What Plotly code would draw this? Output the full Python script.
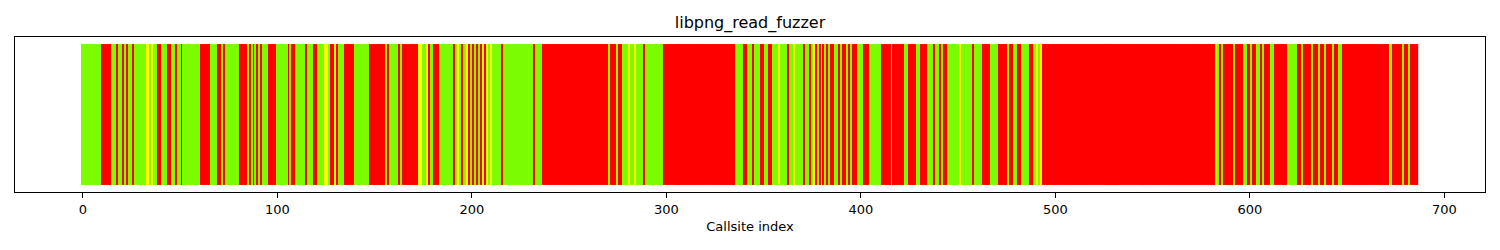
import plotly.graph_objects as go

# Callsite status as run-length tokens (G = green / hit, R = red / not hit, Y = yellow)
runs_0_114 = ("G10 R5 G3 R1 G2 R1 G1 R1 G2 R1 G6 Y2 G1 Y1 G2 R2 G3 R2 G2 R1 G2 R1 G9 R5 G4 R2 G1 R1 "
              "G7 R4 G1 R1 G1 R1 G1 R1 G1 R1 G3 R4 G6 R1 G1 R2 G5").split()
runs_115_236 = ("R1 G3 R2 G4 Y2 G1 R2 Y1 R1 G3 R5 G8 R8 G1 R1 G5 R1 G1 R8 Y2 G2 Y1 R1 G2 R3 G7 R1 G1 "
                "Y1 G1 R1 G2 Y1 R1 G1 R1 G1 R1 G1 R1 Y1 R1 Y1 G1 Y1 G5 R1 G15 R1 G4").split()
runs_237_335 = "R34 G1 R3 G1 R2 G3 Y1 G2 Y1 G4 R1 G9 R37".split()
runs_336_492 = ("G4 R2 G3 R1 G3 R2 G2 R2 G3 Y1 G4 R1 G2 Y1 G4 R1 G2 R1 G1 Y1 R1 G1 R1 Y1 R1 G1 R1 G1 "
                "R2 G2 R1 G1 R2 G1 R1 G1 R3 G3 R3 G6 R5 G1 R6 G2 R4 G2 R4 G3 R1 G2 R1 G1 R2 G6 Y1 G6 "
                "R1 G4 R4 G4 R5 G1 R2 G2 R2 G4 R2 G2 Y1 G1 Y1").split()
runs_493_581 = ["R89"]
runs_582_685 = ("Y1 G1 R1 G1 R5 G1 R4 G2 R2 G1 R2 G2 R1 G1 R3 G2 R7 G5 R2 G1 R4 G1 R3 G1 R2 G1 R3 G1 "
                "R2 G2 R24 Y1 G1 R5 G1 R2 G1 R4").split()
status_colors = {"G": "#7CFC00", "R": "#FF0000", "Y": "#FFFF00"}
tick_values = [0, 100, 200, 300, 400, 500, 600, 700]

statuses = []
for section in (runs_0_114, runs_115_236, runs_237_335, runs_336_492, runs_493_581, runs_582_685):
    for tok in section:
        statuses.extend([tok[0]] * int(tok[1:]))
N = len(statuses)
callsites = list(range(N))
heights = [1] * N
colors = [status_colors[s] for s in statuses]

font = "DejaVu Sans, Verdana, sans-serif"
fig = go.Figure(go.Bar(x=callsites, y=heights, width=1, marker=dict(color=colors, line=dict(width=0)),
                       hoverinfo="x"))
fig.update_layout(
    width=1500, height=250,
    margin=dict(l=15, r=15, t=37, b=58, autoexpand=False),
    paper_bgcolor="white", plot_bgcolor="white",
    showlegend=False,
    title=dict(text="libpng_read_fuzzer", x=0.5, xanchor="center", y=1 - 22 / 250, yanchor="middle",
               font=dict(family=font, size=16, color="black")),
    font=dict(family=font, color="black"),
)
pad = 0.05 * N
fig.update_xaxes(range=[-0.5 - pad, N - 0.5 + pad], tickvals=tick_values, ticks="outside", ticklen=5,
                 tickwidth=1, tickcolor="black", showline=True, mirror=True, linecolor="black", linewidth=1,
                 showgrid=False, zeroline=False, automargin=False,
                 tickfont=dict(size=13, family=font, color="black"),
                 title=dict(text="Callsite index", font=dict(size=13, family=font, color="black"), standoff=6))
fig.update_yaxes(range=[-0.05, 1.05], showticklabels=False, ticks="", showline=True, mirror=True,
                 linecolor="black", linewidth=1, showgrid=False, zeroline=False, automargin=False)
fig.write_html("out.html")
